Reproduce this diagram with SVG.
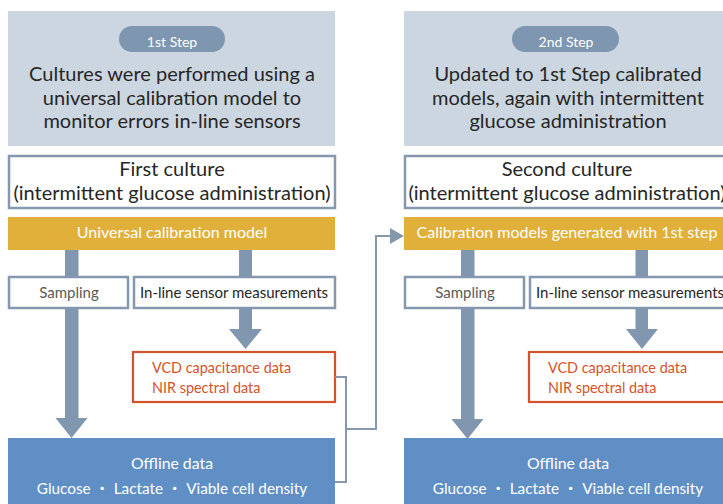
<svg xmlns="http://www.w3.org/2000/svg" width="723" height="504" viewBox="0 0 723 504">
  <defs>
    <style>
      text { font-family: Lato, "Noto Sans CJK JP", sans-serif; }
      .panel { fill: #ccd6e0; }
      .pill { fill: #7e96b0; }
      .pilltxt { fill: #ffffff; font-size: 14px; text-anchor: middle; }
      .head { fill: #262626; font-size: 20px; text-anchor: middle; }
      .frame { fill: #ffffff; stroke: #8698ae; stroke-width: 2.5; }
      .model { fill: #e0b03b; }
      .modeltxt { fill: #ffffff; font-size: 16px; text-anchor: middle; }
      .small { fill: #ffffff; stroke: #8698ae; stroke-width: 2.5; }
      .gtxt { fill: #595959; font-size: 15px; text-anchor: middle; }
      .dtxt { fill: #262626; font-size: 15px; text-anchor: middle; }
      .sensor { fill: #ffffff; stroke: #d6532a; stroke-width: 2.2; }
      .rtxt { fill: #d6532a; font-size: 14.4px; }
      .offline { fill: #5f8fc5; }
      .wtxt { fill: #ffffff; font-size: 15.8px; text-anchor: middle; }
      .wtxt2 { fill: #ffffff; font-size: 15.3px; text-anchor: middle; }
      .bar { fill: #8197b0; }
      .link { fill: none; stroke: #8698ae; stroke-width: 2; }
    </style>
  </defs>

  <!-- Step 1 column -->
  <g id="step1">
    <rect class="panel" x="8" y="11" width="327" height="135"/>
    <rect class="pill" x="119" y="26" width="106" height="26" rx="13"/>
    <text class="pilltxt" x="172" y="47">1st Step</text>
    <text class="head" x="172" y="81">Cultures were performed using a</text>
    <text class="head" x="172" y="105">universal calibration model to</text>
    <text class="head" x="172" y="128">monitor errors in-line sensors</text>
  </g>
  <g id="culture1">
    <rect class="frame" x="9" y="156" width="326" height="52"/>
    <text class="head" x="172" y="176">First culture</text>
    <text class="head" x="172" y="200">(intermittent glucose administration)</text>
  </g>
  <g id="model1">
    <rect class="model" x="8" y="217" width="327" height="33"/>
    <text class="modeltxt" x="172" y="238">Universal calibration model</text>
  </g>
  <g id="sampling1">
    <rect class="small" x="9" y="277" width="119" height="31"/>
    <text class="gtxt" x="69" y="298">Sampling</text>
  </g>
  <g id="inline1">
    <rect class="small" x="134" y="277" width="201" height="31"/>
    <text class="dtxt" x="234" y="298">In-line sensor measurements</text>
  </g>
  <g id="sensor1">
    <rect class="sensor" x="133" y="352" width="202" height="50"/>
    <text class="rtxt" x="152" y="373">VCD capacitance data</text>
    <text class="rtxt" x="152" y="393">NIR spectral data</text>
  </g>
  <g id="offline1">
    <rect class="offline" x="8" y="438" width="327" height="70"/>
    <text class="wtxt" x="172" y="469">Offline data</text>
    <text class="wtxt2" x="172" y="494">Glucose ・ Lactate ・ Viable cell density</text>
  </g>

  <!-- Step 2 column -->
  <g id="step2">
    <rect class="panel" x="404" y="11" width="325" height="135"/>
    <rect class="pill" x="512" y="26" width="107" height="26" rx="13"/>
    <text class="pilltxt" x="566" y="47">2nd Step</text>
    <text class="head" x="568" y="81">Updated to 1st Step calibrated</text>
    <text class="head" x="568" y="105">models, again with intermittent</text>
    <text class="head" x="568" y="128">glucose administration</text>
  </g>
  <g id="culture2">
    <rect class="frame" x="405" y="156" width="330" height="52"/>
    <text class="head" x="567" y="176">Second culture</text>
    <text class="head" x="567" y="200">(intermittent glucose administration)</text>
  </g>
  <g id="model2">
    <rect class="model" x="404" y="217" width="325" height="33"/>
    <text class="modeltxt" x="567" y="238">Calibration models generated with 1st step</text>
  </g>
  <g id="sampling2">
    <rect class="small" x="405" y="277" width="119" height="31"/>
    <text class="gtxt" x="465" y="298">Sampling</text>
  </g>
  <g id="inline2">
    <rect class="small" x="530" y="277" width="201" height="31"/>
    <text class="dtxt" x="630" y="298">In-line sensor measurements</text>
  </g>
  <g id="sensor2">
    <rect class="sensor" x="529" y="352" width="202" height="50"/>
    <text class="rtxt" x="548" y="373">VCD capacitance data</text>
    <text class="rtxt" x="548" y="393">NIR spectral data</text>
  </g>
  <g id="offline2">
    <rect class="offline" x="404" y="438" width="325" height="70"/>
    <text class="wtxt" x="568" y="469">Offline data</text>
    <text class="wtxt2" x="568" y="494">Glucose ・ Lactate ・ Viable cell density</text>
  </g>

  <!-- Connectors -->
  <g id="connectors">
    <!-- column 1 -->
    <rect class="bar" x="65" y="250" width="13.5" height="27"/>
    <rect class="bar" x="239" y="250" width="13" height="27"/>
    <path class="bar" d="M65 308 H78.5 V418 H87.5 L71.5 438 L55.5 418 H65 Z"/>
    <path class="bar" d="M239 308 H252 V329 H262 L245.5 349 L229 329 H239 Z"/>
    <!-- column 2 -->
    <rect class="bar" x="461" y="250" width="13.5" height="27"/>
    <rect class="bar" x="635.5" y="250" width="12.5" height="27"/>
    <path class="bar" d="M461 308 H474.5 V419 H483.5 L467.5 439 L451.5 419 H461 Z"/>
    <path class="bar" d="M635.5 308 H648 V329 H658 L642 349 L626 329 H635.5 Z"/>
    <!-- step 1 results feed step 2 models -->
    <path class="link" d="M335 377 H346 V482 H335"/>
    <path class="link" d="M346 429 H376 V236 H392"/>
    <path fill="#8698ae" d="M390 228 L404 236 L390 244 Z"/>
  </g>
</svg>
